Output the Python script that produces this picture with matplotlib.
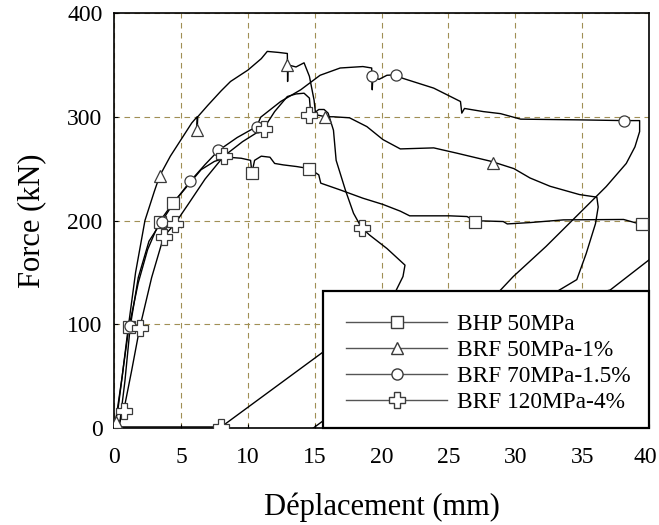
import matplotlib
matplotlib.use("Agg")
import matplotlib.pyplot as plt
from matplotlib.lines import Line2D
from matplotlib.patches import Rectangle
from matplotlib.transforms import ScaledTranslation

plt.rcParams['font.family'] = ['Liberation Serif', 'DejaVu Serif']

# ---------------- data ----------------
labels = ["BHP 50MPa", "BRF 50MPa-1%", "BRF 70MPa-1.5%", "BRF 120MPa-4%"]

# BHP 50MPa (squares)
bhp_x = [0, 0.3, 0.7, 1.1, 1.8, 2.5, 3.4, 4.4, 5.0, 6.5, 7.5, 8.5, 9.5, 10.2, 10.3, 10.5, 11.0, 11.65,
         12.0, 12.65, 13.65, 14.6, 15.3, 15.45, 16.9, 18.6, 20.1, 21.4, 22.1, 25.1, 26.4, 27.0, 27.6,
         29.1, 29.4, 31.1, 33.6, 38.1, 39.1, 39.45, 40.0]
bhp_y = [0, 20, 60, 97, 140, 172, 199, 217, 226, 249, 257, 261, 260, 258, 246, 258, 262, 261,
         255, 253.6, 252, 250, 244, 236, 229.5, 221.5, 215.5, 209, 204.5, 204.5, 203.8, 199, 199.6,
         199, 196.7, 198, 200.6, 201, 197.4, 196.7, 197]
bhp_mx = [1.1, 3.4, 4.4, 10.3, 14.6, 27.0, 39.45]
bhp_my = [97, 199, 217, 246, 250, 198.4, 196.7]

# BRF 50MPa-1% (triangles)
b50_x = [0, 0.1, 0.6, 1.06, 1.6, 2.3, 3.0, 3.4, 4.2, 5.0, 5.8, 6.2, 6.2, 6.25, 7.0, 8.0, 8.7, 10.0,
         11.0, 11.45, 12.3, 12.95, 12.97, 13.0, 13.6, 14.2, 14.6, 14.95, 15.07, 15.8, 16.4, 17.6, 18.9,
         20.1, 21.4, 23.9, 25.6, 28.2, 29.9, 31.1, 32.6, 34.8, 36.1, 36.2, 36.0, 35.3, 34.6, 33.3,
         25.0, 17.0, 14.9]
b50_y = [0, 6, 50, 98, 150, 200, 228, 243, 262, 278, 294, 300, 287, 300, 311, 325, 334, 345,
         356, 363, 362, 361, 334, 350, 348, 352, 339, 316, 302, 300, 300, 299, 290.5,
         278, 269, 270, 265, 257, 250, 241, 233, 225, 222.5, 213, 197, 168, 143, 133,
         70, 20, 0]
b50_mx = [0.1, 3.4, 6.2, 12.95, 15.8, 28.3]
b50_my = [6, 243, 287, 350, 300, 255]

# BRF 70MPa-1.5% (circles)
b70_x = [0, 0.4, 0.8, 1.2, 1.8, 2.6, 3.55, 4.5, 5.7, 6.8, 7.8, 9.2, 10.65, 10.96, 12.45, 13.95,
         15.4, 16.9, 18.6, 19.26, 19.3, 19.35, 19.8, 20.4, 21.05, 21.6, 23.9, 25.9, 26.0, 26.2,
         27.6, 28.9, 30.4, 34.8, 38.1, 39.3, 39.3, 38.95, 38.3, 36.8, 34.8, 32.3, 29.85, 28.9, 18.5]
b70_y = [0, 3, 45, 98, 145, 180, 199, 218, 238, 254, 267.5, 280, 290.5, 299.6, 314.7, 326,
         340, 347, 348.4, 347, 326, 339.5, 336, 340, 340.4, 337, 327.6, 314.7, 303.5, 308,
         305, 303, 297.7, 297, 296.3, 296.3, 285.7, 271, 255, 232.7, 207, 175, 146, 133, 0]
b70_mx = [1.2, 3.55, 5.7, 7.8, 10.65, 19.3, 21.05, 38.1]
b70_my = [98, 199, 238, 267.5, 290.5, 339.5, 340.4, 296]

# BRF 120MPa-4% (plus) - main branch and reloading branch
b120_x = [0, 0.3, 0.7, 1.3, 1.9, 2.8, 3.7, 4.55, 5.5, 6.8, 8.2, 9.6, 11.2, 12.0, 12.95, 13.6,
          14.2, 14.6, 14.7, 15.0, 15.3, 15.7, 16.0, 16.4, 16.6, 16.9, 17.3, 17.9, 18.5, 19.1,
          20.4, 21.75, 21.6, 21.1, 20.5, 20.0]
b120_y = [0, 2, 16, 55, 96, 145, 184.5, 197, 215, 240, 262, 276, 289, 305, 319.5, 322,
          322.7, 318, 303, 304, 307, 307, 303.5, 287, 258, 245.6, 229, 207, 193, 186,
          173, 157, 146, 133, 80, 0]
b120r_x = [0, 8.0, 15.6, 30.0, 37.1, 40.5]
b120r_y = [1, 1, 73, 110, 133, 167]
b120_mx = [0.7, 1.9, 3.7, 4.55, 8.2, 11.2, 14.6, 18.5, 8.0]
b120_my = [16, 96, 184.5, 197, 262, 288, 302, 192.6, 1]

xticks = [0, 5, 10, 15, 20, 25, 30, 35, 40]
yticks = [0, 100, 200, 300, 400]

# ---------------- plot ----------------
W, H = 659, 525
fig = plt.figure(figsize=(W / 100, H / 100), dpi=100)
ax = fig.add_axes([0.1733, 0.1848, 0.8115, 0.7904])

line_kw = dict(color='black', lw=1.0, zorder=3)
mk_kw = dict(ls='none', mfc='white', mec='#3a3a3a', mew=0.9, zorder=4)

ax.plot(bhp_x, bhp_y, **line_kw)
ax.plot(b50_x, b50_y, **line_kw)
ax.plot(b70_x, b70_y, **line_kw)
ax.plot(b120_x, b120_y, **line_kw)
ax.plot(b120r_x, b120r_y, **line_kw)

ax.plot(bhp_mx, bhp_my, marker='s', ms=8.6, **mk_kw)
ax.plot(b50_mx, b50_my, marker='^', ms=8.6, **mk_kw)
ax.plot(b70_mx, b70_my, marker='o', ms=8.0, **mk_kw)
ax.plot(b120_mx, b120_my, marker='P', ms=12, **mk_kw)

ax.set_xlim(0, 40)
ax.set_ylim(0, 400)
ax.set_xticks(xticks)
ax.set_yticks(yticks)
ax.tick_params(direction='in', length=3, width=0.8, labelsize=17)
ax.tick_params(axis='x', pad=14)
ax.tick_params(axis='y', pad=8.5)
ax.grid(True, color='#a08f55', lw=0.8, ls=(0, (5, 4)))
ax.set_axisbelow(True)
for s in ax.spines.values():
    s.set_linewidth(1.2)

# keep the right-most x tick label inside the figure
last = ax.get_xticklabels()[-1]
last.set_transform(last.get_transform() + ScaledTranslation(-4 / 100, 0, fig.dpi_scale_trans))

ax.set_xlabel("Déplacement (mm)", fontsize=22, labelpad=17)
ax.set_ylabel("Force (kN)", fontsize=22, labelpad=15)

# legend box (white, covers the curves underneath)
box = Rectangle((0.39, 0.0), 0.61, 0.33, transform=ax.transAxes, facecolor='white',
                edgecolor='black', lw=1.6, zorder=15, clip_on=False)
ax.add_patch(box)

handles = [
    Line2D([], [], color='#555555', lw=1.0, marker='s', ms=8.6, mfc='white', mec='#3a3a3a'),
    Line2D([], [], color='#555555', lw=1.0, marker='^', ms=8.6, mfc='white', mec='#3a3a3a'),
    Line2D([], [], color='#555555', lw=1.0, marker='o', ms=8.0, mfc='white', mec='#3a3a3a'),
    Line2D([], [], color='#555555', lw=1.0, marker='P', ms=12, mfc='white', mec='#3a3a3a'),
]
leg = ax.legend(handles, labels, loc='upper left',
                bbox_to_anchor=(346 / W, 1 - 314 / H), bbox_transform=fig.transFigure,
                borderaxespad=0.0, borderpad=0.0, fontsize=16.8, frameon=False,
                handlelength=4.33, handletextpad=0.43, labelspacing=0.2)
leg.set_zorder(20)

fig.savefig("out.png", dpi=100)
